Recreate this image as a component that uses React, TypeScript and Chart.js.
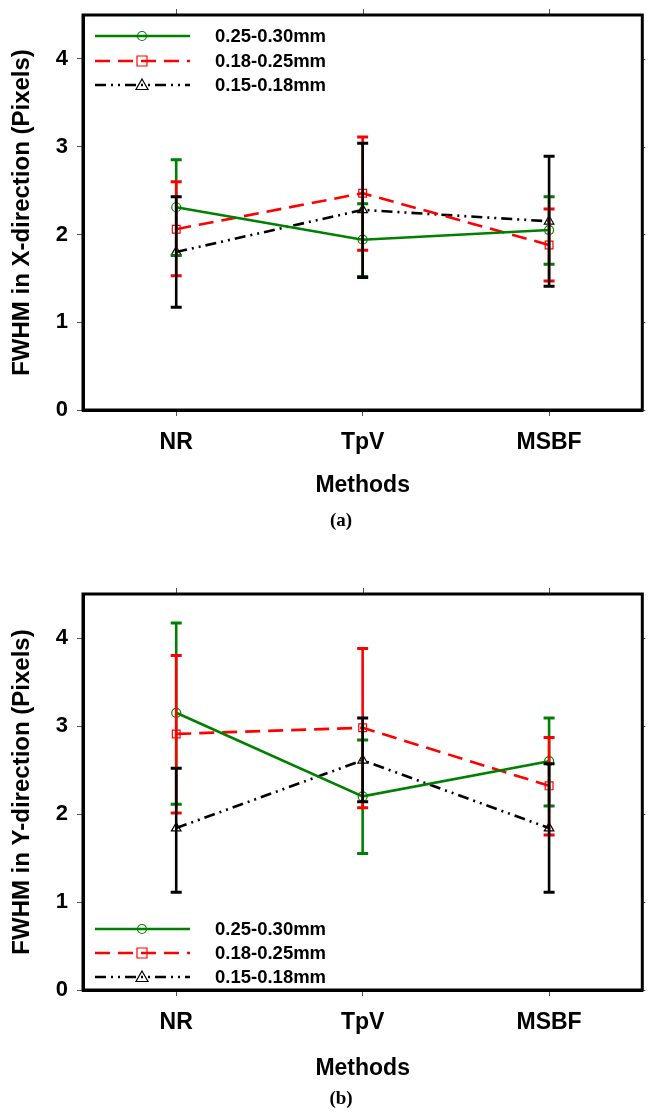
import React, { useEffect, useRef } from "react";
import { Chart, registerables } from "chart.js";
Chart.register(...registerables);

const categories = ["NR", "TpV", "MSBF"];
const seriesLabels = ["0.25-0.30mm", "0.18-0.25mm", "0.15-0.18mm"];
const yTickValues = [0, 1, 2, 3, 4];

// (a) FWHM in X-direction
const xGreen = [2.31, 1.94, 2.05];
const xGreenLow = [1.76, 1.52, 1.66];
const xGreenHigh = [2.85, 2.35, 2.43];
const xRed = [2.06, 2.47, 1.88];
const xRedLow = [1.53, 1.82, 1.47];
const xRedHigh = [2.6, 3.11, 2.29];
const xBlack = [1.8, 2.28, 2.15];
const xBlackLow = [1.17, 1.51, 1.41];
const xBlackHigh = [2.43, 3.04, 2.89];

// (b) FWHM in Y-direction
const yGreen = [3.15, 2.2, 2.6];
const yGreenLow = [2.11, 1.55, 2.09];
const yGreenHigh = [4.17, 2.84, 3.09];
const yRed = [2.91, 2.98, 2.32];
const yRedLow = [2.01, 2.07, 1.76];
const yRedHigh = [3.8, 3.88, 2.87];
const yBlack = [1.84, 2.61, 1.84];
const yBlackLow = [1.11, 2.14, 1.11];
const yBlackHigh = [2.52, 3.09, 2.57];

const FONT = "'Liberation Sans', Arial, sans-serif";
const COLORS = ["#008000", "#ff0000", "#000000"];
const DASHES: number[][] = [[], [15, 8], [11, 5, 2, 5, 2, 5]];
const POINT_STYLES = ["circle", "rect", "triangle"];
const AXIS_FONT_SIZE = 23;

type PanelCfg = {
  values: number[][];
  lows: number[][];
  highs: number[][];
  yTitle: string;
  tag: string;
  padTop: number;
  xAxisHeight: number;
  titlePadBottom: number;
  tagY: number;
  legendRows: number[];
  legendFromBottom: boolean;
};

function drawMarker(ctx: CanvasRenderingContext2D, style: string, x: number, y: number, color: string) {
  ctx.save();
  ctx.strokeStyle = color;
  ctx.lineWidth = 1.2;
  ctx.setLineDash([]);
  ctx.beginPath();
  if (style === "circle") {
    ctx.arc(x, y, 4.5, 0, Math.PI * 2);
  } else if (style === "rect") {
    ctx.rect(x - 5, y - 5, 10, 10);
  } else {
    ctx.moveTo(x, y - 6);
    ctx.lineTo(x + 6, y + 4.5);
    ctx.lineTo(x - 6, y + 4.5);
    ctx.closePath();
  }
  ctx.stroke();
  ctx.restore();
}

function makeChart(canvas: HTMLCanvasElement, cfg: PanelCfg) {
  const errorBars = {
    id: "errorBars",
    afterDatasetsDraw(chart: any) {
      const ctx = chart.ctx as CanvasRenderingContext2D;
      const xs = chart.scales.x;
      const ys = chart.scales.y;
      ctx.save();
      ctx.setLineDash([]);
      for (let s = 0; s < 3; s++) {
        ctx.strokeStyle = COLORS[s];
        for (let i = 0; i < categories.length; i++) {
          const x = xs.getPixelForValue(i);
          const yl = ys.getPixelForValue(cfg.lows[s][i]);
          const yh = ys.getPixelForValue(cfg.highs[s][i]);
          ctx.lineWidth = 2.6;
          ctx.beginPath();
          ctx.moveTo(x, yl);
          ctx.lineTo(x, yh);
          ctx.stroke();
          ctx.lineWidth = 3;
          ctx.beginPath();
          ctx.moveTo(x - 5.5, yl);
          ctx.lineTo(x + 5.5, yl);
          ctx.moveTo(x - 5.5, yh);
          ctx.lineTo(x + 5.5, yh);
          ctx.stroke();
        }
      }
      ctx.restore();
    },
  };

  const frame = {
    id: "frame",
    afterDraw(chart: any) {
      const ctx = chart.ctx as CanvasRenderingContext2D;
      const a = chart.chartArea;
      const xs = chart.scales.x;
      const ys = chart.scales.y;
      ctx.save();
      ctx.setLineDash([]);
      ctx.strokeStyle = "#555";
      ctx.lineWidth = 1;
      ctx.beginPath();
      for (let i = 0; i < categories.length; i++) {
        const x = Math.round(xs.getPixelForValue(i)) + 0.5;
        ctx.moveTo(x, a.top - 6);
        ctx.lineTo(x, a.top);
      }
      for (const v of yTickValues) {
        const y = Math.round(ys.getPixelForValue(v)) + 0.5;
        ctx.moveTo(a.right, y);
        ctx.lineTo(a.right + 3, y);
      }
      ctx.stroke();
      ctx.strokeStyle = "#000";
      ctx.lineWidth = 3;
      ctx.strokeRect(a.left, a.top, a.right - a.left, a.bottom - a.top);

      const legendLeft = a.left + 12;
      for (let s = 0; s < 3; s++) {
        const ry = cfg.legendFromBottom ? a.bottom - cfg.legendRows[s] : a.top + cfg.legendRows[s];
        ctx.strokeStyle = COLORS[s];
        ctx.lineWidth = 2.5;
        ctx.setLineDash(DASHES[s]);
        ctx.beginPath();
        ctx.moveTo(legendLeft, ry);
        ctx.lineTo(legendLeft + 95, ry);
        ctx.stroke();
        drawMarker(ctx, POINT_STYLES[s], legendLeft + 47, ry, COLORS[s]);
        ctx.fillStyle = "#000";
        ctx.font = `bold 18.5px ${FONT}`;
        ctx.textAlign = "left";
        ctx.textBaseline = "middle";
        ctx.fillText(seriesLabels[s], a.left + 132, ry + 1);
      }

      ctx.font = "bold 19px 'Liberation Serif', 'Times New Roman', serif";
      ctx.textAlign = "center";
      ctx.textBaseline = "middle";
      ctx.fillStyle = "#000";
      ctx.fillText(cfg.tag, 341, cfg.tagY);
      ctx.restore();
    },
  };

  return new Chart(canvas, {
    type: "line",
    data: {
      labels: categories,
      datasets: [0, 1, 2].map((s) => ({
        label: seriesLabels[s],
        data: cfg.values[s],
        borderColor: COLORS[s],
        backgroundColor: "rgba(0,0,0,0)",
        borderWidth: 2.6,
        borderDash: DASHES[s],
        pointStyle: POINT_STYLES[s] as any,
        pointRadius: s === 0 ? 4.5 : 5.5,
        pointBorderWidth: 1.2,
        pointBorderColor: COLORS[s],
        pointBackgroundColor: "rgba(0,0,0,0)",
        tension: 0,
        fill: false,
      })),
    },
    options: {
      responsive: false,
      animation: false,
      devicePixelRatio: 1,
      layout: { padding: { top: cfg.padTop, right: 3, left: 0, bottom: 0 } },
      plugins: { legend: { display: false }, tooltip: { enabled: false } },
      scales: {
        x: {
          type: "category",
          offset: true,
          grid: { drawOnChartArea: false, drawTicks: true, tickLength: 6, color: "#555", lineWidth: 1, offset: false },
          border: { display: true, color: "#000", width: 3 },
          ticks: { color: "#000", padding: 13, font: { family: FONT, size: AXIS_FONT_SIZE, weight: "bold" } },
          title: {
            display: true,
            text: "Methods",
            color: "#000",
            font: { family: FONT, size: AXIS_FONT_SIZE, weight: "bold" },
            padding: { top: 0, bottom: cfg.titlePadBottom },
          },
          afterFit: (s: any) => {
            s.height = cfg.xAxisHeight;
          },
        },
        y: {
          type: "linear",
          min: 0,
          max: 4.5,
          grid: { drawOnChartArea: false, drawTicks: true, tickLength: 6, color: "#555", lineWidth: 1 },
          border: { display: true, color: "#000", width: 3 },
          ticks: { color: "#000", padding: 9, font: { family: FONT, size: 22, weight: "bold" } },
          afterBuildTicks: (s: any) => {
            s.ticks = yTickValues.map((v) => ({ value: v }));
          },
          title: {
            display: true,
            text: cfg.yTitle,
            color: "#000",
            font: { family: FONT, size: 24, weight: "bold" },
            padding: { top: 8, bottom: 0 },
          },
          afterFit: (s: any) => {
            s.width = 83;
            s.paddingTop = 0;
            s.paddingBottom = 0;
          },
        },
      },
    },
    plugins: [errorBars, frame],
  } as any);
}

function Panel({ cfg }: { cfg: PanelCfg }) {
  const ref = useRef<HTMLCanvasElement | null>(null);
  useEffect(() => {
    if (!ref.current) return;
    const c = makeChart(ref.current, cfg);
    return () => c.destroy();
  }, [cfg]);
  return <canvas ref={ref} width={649} height={556} style={{ display: "block", width: 649, height: 556 }} />;
}

const panelA: PanelCfg = {
  values: [xGreen, xRed, xBlack],
  lows: [xGreenLow, xRedLow, xBlackLow],
  highs: [xGreenHigh, xRedHigh, xBlackHigh],
  yTitle: "FWHM in X-direction (Pixels)",
  tag: "(a)",
  padTop: 15,
  xAxisHeight: 146,
  titlePadBottom: 57,
  tagY: 521,
  legendRows: [21, 46, 70],
  legendFromBottom: false,
};

const panelB: PanelCfg = {
  values: [yGreen, yRed, yBlack],
  lows: [yGreenLow, yRedLow, yBlackLow],
  highs: [yGreenHigh, yRedHigh, yBlackHigh],
  yTitle: "FWHM in Y-direction (Pixels)",
  tag: "(b)",
  padTop: 38,
  xAxisHeight: 122,
  titlePadBottom: 30,
  tagY: 543,
  legendRows: [61, 37, 13],
  legendFromBottom: true,
};

export default function App() {
  return (
    <div style={{ position: "absolute", left: 0, top: 0, width: 649, height: 1112, background: "#fff" }}>
      <Panel cfg={panelA} />
      <Panel cfg={panelB} />
    </div>
  );
}
